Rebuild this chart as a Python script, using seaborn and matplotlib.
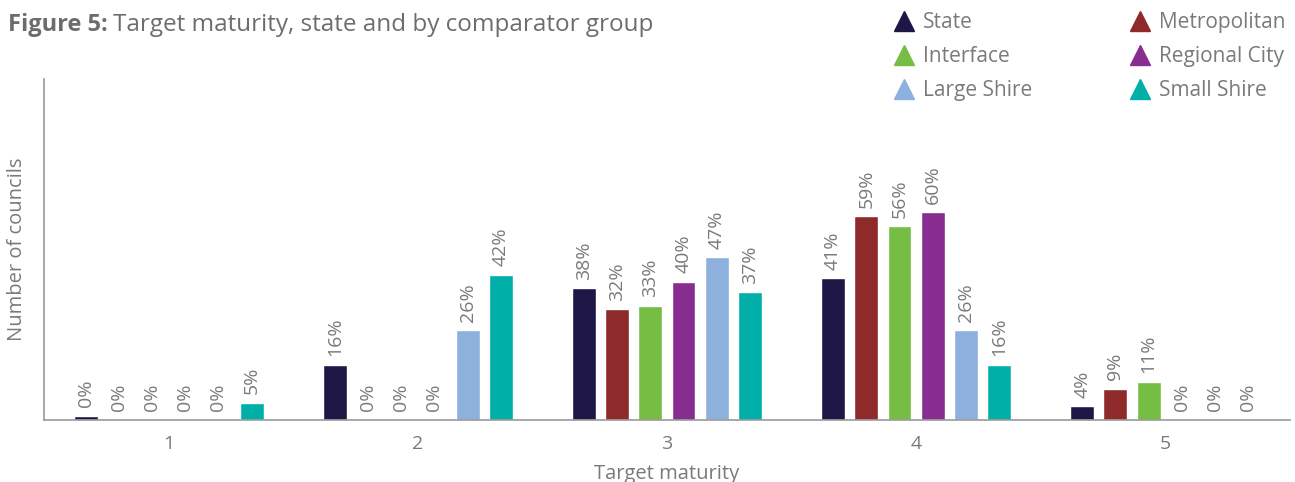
import pandas as pd
import matplotlib
import matplotlib.pyplot as plt
import seaborn as sns
from matplotlib.lines import Line2D

matplotlib.use('Agg')

# Chart data
maturity = ['1', '2', '3', '4', '5']
groups = ['State', 'Metropolitan', 'Interface', 'Regional City', 'Large Shire', 'Small Shire']
state = [1.2, 16, 38, 41, 4]
metropolitan = [0, 0, 32, 59, 9]
interface = [0, 0, 33, 56, 11]
regional_city = [0, 0, 40, 60, 0]
large_shire = [0, 26, 47, 26, 0]
small_shire = [5, 42, 37, 16, 0]
# labels printed above the bars
state_labels = ['0%', '16%', '38%', '41%', '4%']

colors = ['#1e1746', '#8f2a2b', '#76bd43', '#872d90', '#8eb0dd', '#00b0a8']
grey = '#7a7a7a'

series = [state, metropolitan, interface, regional_city, large_shire, small_shire]
rows = []
for g, vals in zip(groups, series):
    for m, v in zip(maturity, vals):
        rows.append({'maturity': m, 'group': g, 'value': v})
df = pd.DataFrame(rows)

sns.set_style('white')
plt.rcParams['font.family'] = ['Open Sans', 'DejaVu Sans']

fig = plt.figure(figsize=(12.95, 4.82), dpi=100)
ax = fig.add_axes([0.034, 0.129, 0.962, 0.707])

sns.barplot(data=df, x='maturity', y='value', hue='group', hue_order=groups,
            order=maturity, palette=colors, width=0.8, gap=0.28,
            saturation=1, legend=False, ax=ax)

for i, cont in enumerate(ax.containers):
    if groups[i] == 'State':
        labels = state_labels
    else:
        labels = [f'{v:.0f}%' for v in series[i]]
    ax.bar_label(cont, labels=labels, rotation=90, padding=6,
                 fontsize=14, color=grey)

ax.set_xlim(-0.5, 4.5)
ax.set_ylim(0, 98.6)
ax.set_yticks([])
ax.tick_params(axis='x', length=0, labelsize=14, labelcolor=grey, pad=11)
ax.set_xlabel('Target maturity', fontsize=14.5, color=grey, labelpad=8)
ax.set_ylabel('Number of councils', fontsize=14.5, color=grey, labelpad=12)
for side in ['top', 'right']:
    ax.spines[side].set_visible(False)
for side in ['left', 'bottom']:
    ax.spines[side].set_color('#9a9a9a')
    ax.spines[side].set_linewidth(1.2)

# Title: bold prefix then regular text
t1 = fig.text(0.006, 0.935, 'Figure 5:', fontsize=17, fontweight='bold',
              color='#6d6d6d', va='baseline')
fig.canvas.draw()
bb = t1.get_window_extent(renderer=fig.canvas.get_renderer())
x2 = bb.x1 / fig.bbox.width + 0.004
fig.text(x2, 0.935, 'Target maturity, state and by comparator group', fontsize=17.5,
         color='#6d6d6d', va='baseline')

# Legend with triangle markers
order = [0, 2, 4, 1, 3, 5]
handles = [Line2D([], [], marker='^', linestyle='', markersize=14,
                  color=colors[k]) for k in order]
fig.legend(handles, [groups[k] for k in order], ncol=2, loc='upper left',
           bbox_to_anchor=(0.674, 1.013), frameon=False, fontsize=15,
           labelcolor=grey, handletextpad=0.3, columnspacing=4.6,
           labelspacing=0.62, handlelength=1.2)

plt.savefig('out.png', dpi=100)
